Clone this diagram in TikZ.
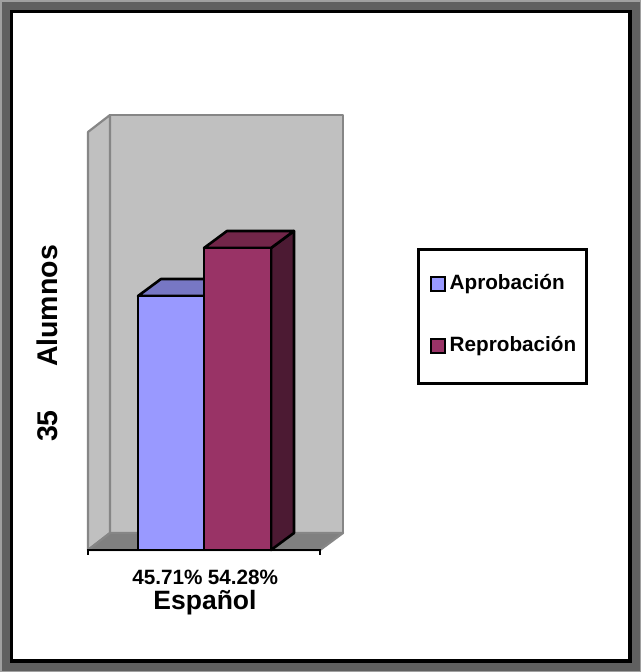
\documentclass[tikz,border=0pt]{standalone}
\usepackage{fontspec}
\setmainfont{Liberation Sans}
\newfontfamily\boldsans{Liberation Sans Bold}
\begin{document}
\begin{tikzpicture}[x=1pt,y=-1pt,
  wallf/.style={fill=wallgray,draw=edgegray,line width=2.2pt,line join=round},
  floorf/.style={fill=floorgray,draw=edgegray,line width=2.2pt,line join=round},
  barline/.style={draw=black,line width=2.6pt,line join=round},
  lbl/.style={font=\boldsans\fontsize{20.7}{24}\selectfont,inner sep=0pt},
  axlbl/.style={font=\boldsans\fontsize{28.5}{30}\selectfont,inner sep=0pt,rotate=90},
  sw/.style={draw=black,line width=2.2pt,minimum size=14pt,inner sep=0pt}]
\definecolor{wallgray}{HTML}{C0C0C0}
\definecolor{edgegray}{HTML}{868686}
\definecolor{floorgray}{HTML}{808080}
\definecolor{bluef}{HTML}{9999FF}
\definecolor{bluet}{HTML}{7777C4}
\definecolor{redf}{HTML}{993366}
\definecolor{redt}{HTML}{722649}
\definecolor{reds}{HTML}{4C1A33}
\definecolor{frameg}{HTML}{606060}
\definecolor{framel}{HTML}{A0A0A0}
\useasboundingbox (0,0) rectangle (641,672);
% frame
\fill[framel] (0,0) rectangle (641,672);
\fill[frameg] (2,2) rectangle (640,671);
\fill[black] (10,10) rectangle (632,663);
\fill[white] (13,13) rectangle (628,659);
% walls
\coordinate (bwtl) at (110,115);
\coordinate (bwbr) at (343,533);
\draw[wallf] (bwtl) rectangle (bwbr);
\draw[wallf] (88,132) -- (110,115) -- (110,533) -- (88,550) -- cycle;
\draw[floorf] (88,550) -- (110,533) -- (343,533) -- (320,550) -- cycle;
% axis
\coordinate (axl) at (87,550);
\coordinate (axr) at (321,550);
\draw[black,line width=2.4pt] (axl) -- (axr);
\draw[black,line width=2pt] (88,550) -- (88,555);
\draw[black,line width=2pt] (320,550) -- (320,555);
% blue bar
\draw[barline,fill=bluet] (138,296) -- (161,279) -- (227,279) -- (204,296) -- cycle;
\draw[barline,fill=bluef] (138,296) rectangle (204,550);
% red bar
\draw[barline,fill=reds] (271,248) -- (294,231) -- (294,533) -- (271,550) -- cycle;
\draw[barline,fill=redt] (204,248) -- (227,231) -- (294,231) -- (271,248) -- cycle;
\draw[barline,fill=redf] (204,248) rectangle (271,550);
% labels
\node[lbl,anchor=base] (p1) at (167.5,584) {45.71\%};
\node[lbl,anchor=base] (p2) at (243,584) {54.28\%};
\node[font=\boldsans\fontsize{26.5}{28}\selectfont,inner sep=0pt,anchor=base] (cat) at (205,609) {Español};
\node[axlbl,anchor=base] (yl1) at (57,306) {Alumnos};
\node[axlbl,anchor=base] (yl2) at (57,426) {35};
% legend
\node[draw=black,line width=2.4pt,minimum width=168pt,minimum height=134pt,inner sep=0pt] (leg) at (502.5,316.5) {};
\node[sw,fill=bluef] (s1) at (438,284) {};
\node[sw,fill=redf] (s2) at (438,346) {};
\node[lbl,anchor=west] (t1) at (449.5,284) {Aprobación};
\node[lbl,anchor=west] (t2) at (449.5,346) {Reprobación};
\end{tikzpicture}
\end{document}
